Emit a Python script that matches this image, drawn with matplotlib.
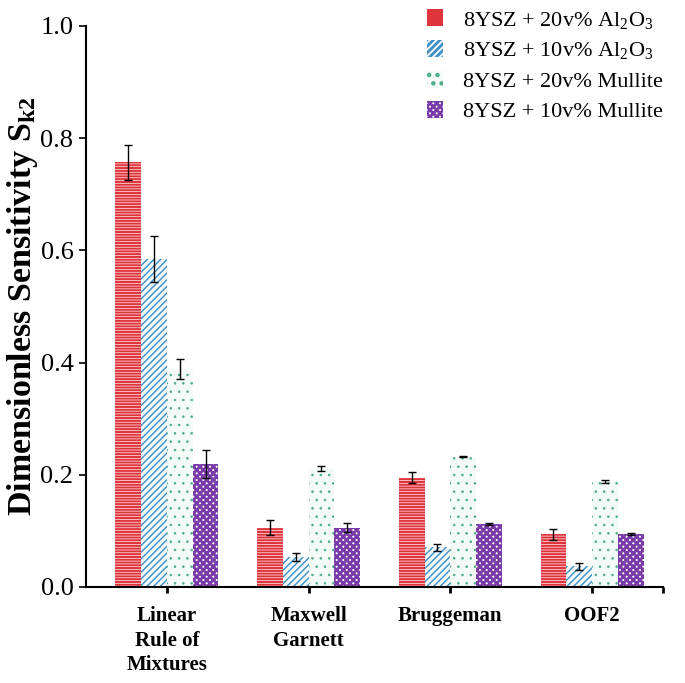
import numpy as np
import matplotlib
matplotlib.use("Agg")
import matplotlib.pyplot as plt
from matplotlib.patches import Patch

plt.rcParams['font.family'] = ['Liberation Serif', 'DejaVu Serif']
plt.rcParams['mathtext.fontset'] = 'custom'
plt.rcParams['mathtext.rm'] = 'Liberation Serif'
plt.rcParams['mathtext.it'] = 'Liberation Serif:italic'
plt.rcParams['mathtext.bf'] = 'Liberation Serif:bold'

models = ['Linear\nRule of\nMixtures', 'Maxwell\nGarnett', 'Bruggeman', 'OOF2']
series = ['8YSZ + 20v% Al$_2$O$_3$', '8YSZ + 10v% Al$_2$O$_3$',
          '8YSZ + 20v% Mullite', '8YSZ + 10v% Mullite']

al20 = [0.757, 0.106, 0.195, 0.094]
al10 = [0.584, 0.054, 0.071, 0.037]
mu20 = [0.389, 0.211, 0.232, 0.188]
mu10 = [0.220, 0.106, 0.112, 0.094]

al20_err = [0.031, 0.013, 0.010, 0.010]
al10_err = [0.041, 0.007, 0.006, 0.006]
mu20_err = [0.018, 0.004, 0.001, 0.002]
mu10_err = [0.025, 0.008, 0.002, 0.002]

values = [al20, al10, mu20, mu10]
errors = [al20_err, al10_err, mu20_err, mu10_err]
colors = ['#e0343c', '#3d8fc4', '#4aae85', '#7a3aa8']
faces = ['#fff0f0', '#f2f9fd', '#f4fbf7', 'white']
hatches = ['------', '/////', '..', 'xxxxx']
hatch_lw = [1.5, 1.0, 0.6, 2.0]

fig = plt.figure(figsize=(6.85, 6.83), dpi=100)
ax = fig.add_axes([0.1255, 0.1406, 0.8425, 0.8214])

x = np.arange(len(models))
w = 0.182
handles = []
for i in range(4):
    plt.rcParams['hatch.linewidth'] = hatch_lw[i]
    pos = x + (i - 1.5) * w
    ax.bar(pos, values[i], w, facecolor=faces[i], edgecolor=colors[i],
           hatch=hatches[i], linewidth=0)
    ax.errorbar(pos, values[i], yerr=errors[i], fmt='none', ecolor='black',
                elinewidth=1, capsize=3, capthick=1)
    handles.append(Patch(facecolor=faces[i], edgecolor=colors[i],
                         hatch=hatches[i], linewidth=0, label=series[i]))

ax.set_xlim(-0.57, 3.5)
ax.set_ylim(0, 1.0)
ax.set_yticks([0, 0.2, 0.4, 0.6, 0.8, 1.0])
ax.set_yticklabels(['0.0', '0.2', '0.4', '0.6', '0.8', '1.0'])
ax.set_xticks(x)
ax.set_xticklabels(models, fontweight='bold', fontsize=15, linespacing=1.3,
                   va='top')
ax.set_xticks([3.5], minor=True)
ax.tick_params(axis='y', labelsize=19, direction='out', length=5, width=1.2,
               pad=4)
ax.tick_params(axis='x', which='both', direction='out', length=4, width=2,
               pad=10)

for s in ['top', 'right']:
    ax.spines[s].set_visible(False)
ax.spines['left'].set_linewidth(1.5)
ax.spines['bottom'].set_linewidth(1.5)

ax.set_ylabel('Dimensionless Sensitivity S$_{\\mathbf{k2}}$', fontsize=24.5,
              fontweight='bold', labelpad=0)

ax.legend(handles=handles, loc='upper right', bbox_to_anchor=(1.035, 1.065),
          frameon=False, fontsize=16, handlelength=0.75, handleheight=0.8,
          handletextpad=0.9, labelspacing=0.42)

fig.savefig('out.png', dpi=100)
